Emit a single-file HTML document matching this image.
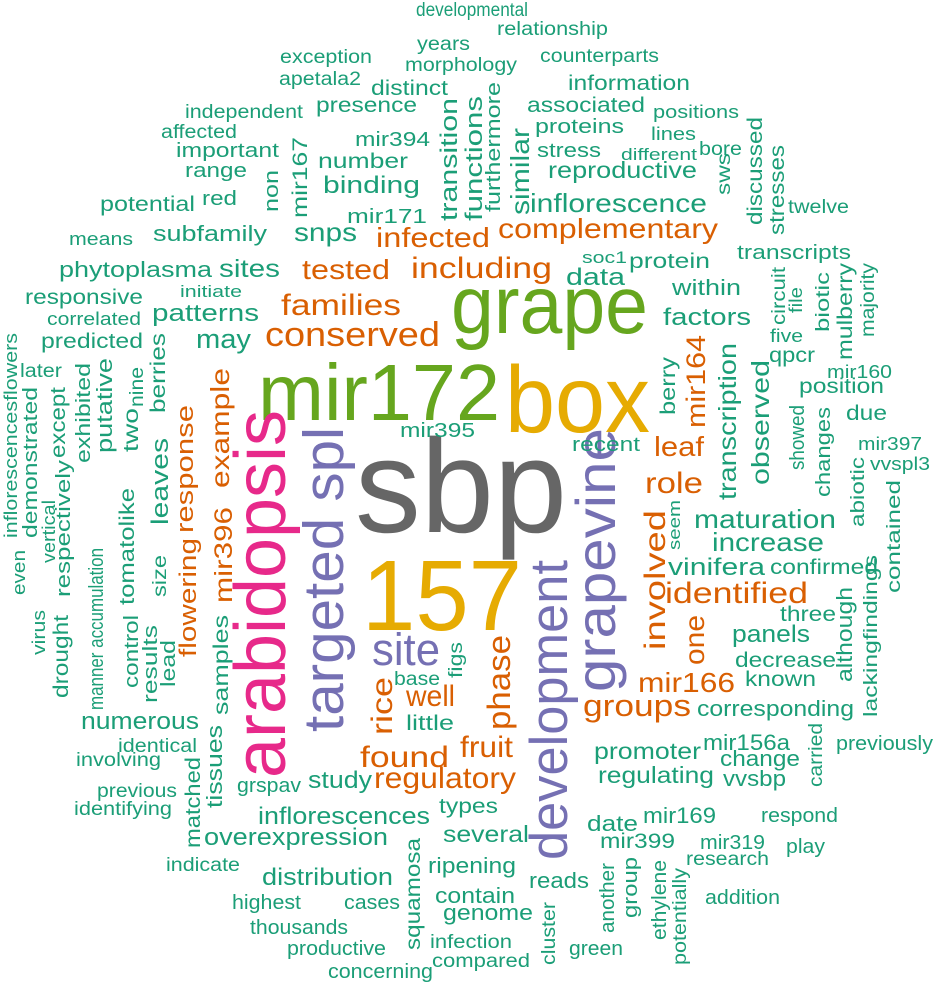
<!DOCTYPE html>
<html><head><meta charset="utf-8"><style>
html,body{margin:0;padding:0;background:#fff;}
svg{display:block;}
text{font-family:"Liberation Sans",Arial,sans-serif;}
.g{fill:#1b9e77}.o{fill:#d95f02}.p{fill:#7570b3}.k{fill:#e7298a}.l{fill:#66a61e}.y{fill:#e6ab02}.d{fill:#666666}
</style></head><body>
<svg width="934" height="989" viewBox="0 0 934 989" xmlns="http://www.w3.org/2000/svg" lengthAdjust="spacingAndGlyphs">
<!-- big words -->
<text class="d" x="355" y="532" font-size="133" textLength="212" lengthAdjust="spacingAndGlyphs">sbp</text>
<text class="y" x="362" y="630" font-size="100" textLength="160" lengthAdjust="spacingAndGlyphs">157</text>
<text class="l" x="258" y="420" font-size="80" textLength="242" lengthAdjust="spacingAndGlyphs">mir172</text>
<text class="y" x="505" y="432" font-size="95" textLength="145" lengthAdjust="spacingAndGlyphs">box</text>
<text class="l" x="451" y="333" font-size="82" textLength="197" lengthAdjust="spacingAndGlyphs">grape</text>
<text class="k" transform="translate(285,778) rotate(-90)" font-size="72" textLength="368" lengthAdjust="spacingAndGlyphs">arabidopsis</text>
<text class="p" transform="translate(343,732) rotate(-90)" font-size="57" textLength="305" lengthAdjust="spacingAndGlyphs">targeted spl</text>
<text class="p" transform="translate(567,860) rotate(-90)" font-size="53" textLength="300" lengthAdjust="spacingAndGlyphs">development</text>
<text class="p" transform="translate(615,692) rotate(-90)" font-size="56" textLength="264" lengthAdjust="spacingAndGlyphs">grapevine</text>
<text class="p" x="372" y="665" font-size="45" textLength="68" lengthAdjust="spacingAndGlyphs">site</text>

<!-- orange -->
<text class="o" x="376" y="247" font-size="28" textLength="114" lengthAdjust="spacingAndGlyphs">infected</text>
<text class="o" x="302" y="279" font-size="28" textLength="88" lengthAdjust="spacingAndGlyphs">tested</text>
<text class="o" x="411" y="278" font-size="30" textLength="141" lengthAdjust="spacingAndGlyphs">including</text>
<text class="o" x="281" y="315" font-size="30" textLength="120" lengthAdjust="spacingAndGlyphs">families</text>
<text class="o" x="265" y="346" font-size="34" textLength="175" lengthAdjust="spacingAndGlyphs">conserved</text>
<text class="o" x="498" y="238" font-size="28" textLength="220" lengthAdjust="spacingAndGlyphs">complementary</text>
<text class="o" transform="translate(665,650) rotate(-90)" font-size="30" textLength="140" lengthAdjust="spacingAndGlyphs">involved</text>
<text class="o" x="665" y="603" font-size="30" textLength="143" lengthAdjust="spacingAndGlyphs">identified</text>
<text class="o" transform="translate(704,665) rotate(-90)" font-size="28" textLength="50" lengthAdjust="spacingAndGlyphs">one</text>
<text class="o" x="638" y="692" font-size="28" textLength="97" lengthAdjust="spacingAndGlyphs">mir166</text>
<text class="o" x="583" y="716" font-size="31" textLength="108" lengthAdjust="spacingAndGlyphs">groups</text>
<text class="o" transform="translate(510,730) rotate(-90)" font-size="32" textLength="95" lengthAdjust="spacingAndGlyphs">phase</text>
<text class="o" x="460" y="757" font-size="30" textLength="53" lengthAdjust="spacingAndGlyphs">fruit</text>
<text class="o" x="374" y="788" font-size="30" textLength="142" lengthAdjust="spacingAndGlyphs">regulatory</text>
<text class="o" x="360" y="767" font-size="30" textLength="89" lengthAdjust="spacingAndGlyphs">found</text>
<text class="o" x="406" y="706" font-size="30" textLength="49" lengthAdjust="spacingAndGlyphs">well</text>
<text class="o" transform="translate(392,735) rotate(-90)" font-size="30" textLength="58" lengthAdjust="spacingAndGlyphs">rice</text>
<text class="o" transform="translate(705,428) rotate(-90)" font-size="27" textLength="93" lengthAdjust="spacingAndGlyphs">mir164</text>
<text class="o" x="654" y="456" font-size="28" textLength="50" lengthAdjust="spacingAndGlyphs">leaf</text>
<text class="o" x="645" y="493" font-size="30" textLength="58" lengthAdjust="spacingAndGlyphs">role</text>
<text class="o" transform="translate(196,657) rotate(-90)" font-size="24" textLength="119" lengthAdjust="spacingAndGlyphs">flowering</text>
<text class="o" transform="translate(232,603) rotate(-90)" font-size="25" textLength="96" lengthAdjust="spacingAndGlyphs">mir396</text>
<text class="o" transform="translate(229,488) rotate(-90)" font-size="26" textLength="120" lengthAdjust="spacingAndGlyphs">example</text>
<text class="o" transform="translate(193,533) rotate(-90)" font-size="24" textLength="128" lengthAdjust="spacingAndGlyphs">response</text>

<!-- green horizontal -->
<g class="g">
<text x="416" y="16" font-size="19" textLength="112" lengthAdjust="spacingAndGlyphs">developmental</text>
<text x="497" y="35" font-size="19" textLength="111" lengthAdjust="spacingAndGlyphs">relationship</text>
<text x="417" y="50" font-size="19" textLength="53" lengthAdjust="spacingAndGlyphs">years</text>
<text x="540" y="62" font-size="19" textLength="119" lengthAdjust="spacingAndGlyphs">counterparts</text>
<text x="280" y="63" font-size="19" textLength="92" lengthAdjust="spacingAndGlyphs">exception</text>
<text x="405" y="71" font-size="19" textLength="112" lengthAdjust="spacingAndGlyphs">morphology</text>
<text x="279" y="85" font-size="19" textLength="82" lengthAdjust="spacingAndGlyphs">apetala2</text>
<text x="568" y="90" font-size="21" textLength="122" lengthAdjust="spacingAndGlyphs">information</text>
<text x="371" y="95" font-size="21" textLength="77" lengthAdjust="spacingAndGlyphs">distinct</text>
<text x="316" y="112" font-size="21" textLength="101" lengthAdjust="spacingAndGlyphs">presence</text>
<text x="527" y="112" font-size="21" textLength="118" lengthAdjust="spacingAndGlyphs">associated</text>
<text x="185" y="118" font-size="19" textLength="118" lengthAdjust="spacingAndGlyphs">independent</text>
<text x="653" y="118" font-size="18" textLength="86" lengthAdjust="spacingAndGlyphs">positions</text>
<text x="535" y="133" font-size="20" textLength="89" lengthAdjust="spacingAndGlyphs">proteins</text>
<text x="161" y="138" font-size="19" textLength="76" lengthAdjust="spacingAndGlyphs">affected</text>
<text x="651" y="140" font-size="18" textLength="45" lengthAdjust="spacingAndGlyphs">lines</text>
<text x="355" y="146" font-size="20" textLength="75" lengthAdjust="spacingAndGlyphs">mir394</text>
<text x="537" y="157" font-size="20" textLength="64" lengthAdjust="spacingAndGlyphs">stress</text>
<text x="699" y="155" font-size="19" textLength="43" lengthAdjust="spacingAndGlyphs">bore</text>
<text x="621" y="160" font-size="17" textLength="76" lengthAdjust="spacingAndGlyphs">different</text>
<text x="176" y="157" font-size="20" textLength="103" lengthAdjust="spacingAndGlyphs">important</text>
<text x="318" y="168" font-size="21" textLength="90" lengthAdjust="spacingAndGlyphs">number</text>
<text x="185" y="177" font-size="20" textLength="62" lengthAdjust="spacingAndGlyphs">range</text>
<text x="548" y="178" font-size="23" textLength="149" lengthAdjust="spacingAndGlyphs">reproductive</text>
<text x="323" y="193" font-size="24" textLength="97" lengthAdjust="spacingAndGlyphs">binding</text>
<text x="202" y="205" font-size="20" textLength="35" lengthAdjust="spacingAndGlyphs">red</text>
<text x="100" y="211" font-size="21" textLength="95" lengthAdjust="spacingAndGlyphs">potential</text>
<text x="530" y="212" font-size="26" textLength="177" lengthAdjust="spacingAndGlyphs">inflorescence</text>
<text x="788" y="213" font-size="19" textLength="61" lengthAdjust="spacingAndGlyphs">twelve</text>
<text x="347" y="223" font-size="20" textLength="80" lengthAdjust="spacingAndGlyphs">mir171</text>
<text x="153" y="241" font-size="22" textLength="114" lengthAdjust="spacingAndGlyphs">subfamily</text>
<text x="294" y="241" font-size="26" textLength="63" lengthAdjust="spacingAndGlyphs">snps</text>
<text x="69" y="245" font-size="18" textLength="64" lengthAdjust="spacingAndGlyphs">means</text>
<text x="737" y="259" font-size="20" textLength="114" lengthAdjust="spacingAndGlyphs">transcripts</text>
<text x="582" y="263" font-size="17" textLength="45" lengthAdjust="spacingAndGlyphs">soc1</text>
<text x="629" y="268" font-size="21" textLength="81" lengthAdjust="spacingAndGlyphs">protein</text>
<text x="59" y="277" font-size="22" textLength="153" lengthAdjust="spacingAndGlyphs">phytoplasma</text>
<text x="219" y="277" font-size="25" textLength="61" lengthAdjust="spacingAndGlyphs">sites</text>
<text x="566" y="285" font-size="24" textLength="59" lengthAdjust="spacingAndGlyphs">data</text>
<text x="672" y="295" font-size="22" textLength="69" lengthAdjust="spacingAndGlyphs">within</text>
<text x="180" y="297" font-size="17" textLength="62" lengthAdjust="spacingAndGlyphs">initiate</text>
<text x="25" y="304" font-size="21" textLength="118" lengthAdjust="spacingAndGlyphs">responsive</text>
<text x="152" y="321" font-size="24" textLength="107" lengthAdjust="spacingAndGlyphs">patterns</text>
<text x="47" y="325" font-size="18" textLength="94" lengthAdjust="spacingAndGlyphs">correlated</text>
<text x="663" y="325" font-size="24" textLength="88" lengthAdjust="spacingAndGlyphs">factors</text>
<text x="770" y="342" font-size="18" textLength="33" lengthAdjust="spacingAndGlyphs">five</text>
<text x="41" y="348" font-size="21" textLength="102" lengthAdjust="spacingAndGlyphs">predicted</text>
<text x="196" y="348" font-size="27" textLength="55" lengthAdjust="spacingAndGlyphs">may</text>
<text x="769" y="362" font-size="21" textLength="46" lengthAdjust="spacingAndGlyphs">qpcr</text>
<text x="20" y="377" font-size="19" textLength="42" lengthAdjust="spacingAndGlyphs">later</text>
<text x="827" y="378" font-size="18" textLength="65" lengthAdjust="spacingAndGlyphs">mir160</text>
<text x="799" y="393" font-size="21" textLength="85" lengthAdjust="spacingAndGlyphs">position</text>
<text x="846" y="420" font-size="21" textLength="41" lengthAdjust="spacingAndGlyphs">due</text>
<text x="400" y="437" font-size="20" textLength="75" lengthAdjust="spacingAndGlyphs">mir395</text>
<text x="858" y="450" font-size="18" textLength="64" lengthAdjust="spacingAndGlyphs">mir397</text>
<text x="572" y="451" font-size="20" textLength="68" lengthAdjust="spacingAndGlyphs">recent</text>
<text x="870" y="470" font-size="18" textLength="60" lengthAdjust="spacingAndGlyphs">vvspl3</text>
<text x="694" y="528" font-size="26" textLength="142" lengthAdjust="spacingAndGlyphs">maturation</text>
<text x="712" y="551" font-size="26" textLength="112" lengthAdjust="spacingAndGlyphs">increase</text>
<text x="668" y="575" font-size="24" textLength="97" lengthAdjust="spacingAndGlyphs">vinifera</text>
<text x="770" y="574" font-size="21" textLength="108" lengthAdjust="spacingAndGlyphs">confirmed</text>
<text x="780" y="621" font-size="21" textLength="56" lengthAdjust="spacingAndGlyphs">three</text>
<text x="732" y="642" font-size="24" textLength="78" lengthAdjust="spacingAndGlyphs">panels</text>
<text x="735" y="667" font-size="21" textLength="101" lengthAdjust="spacingAndGlyphs">decrease</text>
<text x="394" y="685" font-size="19" textLength="46" lengthAdjust="spacingAndGlyphs">base</text>
<text x="745" y="686" font-size="21" textLength="71" lengthAdjust="spacingAndGlyphs">known</text>
<text x="697" y="716" font-size="22" textLength="157" lengthAdjust="spacingAndGlyphs">corresponding</text>
<text x="81" y="729" font-size="24" textLength="118" lengthAdjust="spacingAndGlyphs">numerous</text>
<text x="406" y="730" font-size="21" textLength="48" lengthAdjust="spacingAndGlyphs">little</text>
<text x="703" y="750" font-size="22" textLength="87" lengthAdjust="spacingAndGlyphs">mir156a</text>
<text x="836" y="750" font-size="20" textLength="97" lengthAdjust="spacingAndGlyphs">previously</text>
<text x="118" y="752" font-size="19" textLength="79" lengthAdjust="spacingAndGlyphs">identical</text>
<text x="594" y="759" font-size="23" textLength="107" lengthAdjust="spacingAndGlyphs">promoter</text>
<text x="76" y="766" font-size="19" textLength="85" lengthAdjust="spacingAndGlyphs">involving</text>
<text x="720" y="766" font-size="22" textLength="80" lengthAdjust="spacingAndGlyphs">change</text>
<text x="598" y="783" font-size="23" textLength="116" lengthAdjust="spacingAndGlyphs">regulating</text>
<text x="723" y="786" font-size="22" textLength="63" lengthAdjust="spacingAndGlyphs">vvsbp</text>
<text x="308" y="788" font-size="24" textLength="64" lengthAdjust="spacingAndGlyphs">study</text>
<text x="237" y="792" font-size="20" textLength="64" lengthAdjust="spacingAndGlyphs">grspav</text>
<text x="97" y="797" font-size="19" textLength="80" lengthAdjust="spacingAndGlyphs">previous</text>
<text x="74" y="815" font-size="19" textLength="98" lengthAdjust="spacingAndGlyphs">identifying</text>
<text x="439" y="813" font-size="21" textLength="59" lengthAdjust="spacingAndGlyphs">types</text>
<text x="761" y="822" font-size="20" textLength="77" lengthAdjust="spacingAndGlyphs">respond</text>
<text x="643" y="823" font-size="22" textLength="73" lengthAdjust="spacingAndGlyphs">mir169</text>
<text x="258" y="824" font-size="24" textLength="172" lengthAdjust="spacingAndGlyphs">inflorescences</text>
<text x="587" y="831" font-size="22" textLength="51" lengthAdjust="spacingAndGlyphs">date</text>
<text x="443" y="842" font-size="23" textLength="86" lengthAdjust="spacingAndGlyphs">several</text>
<text x="204" y="845" font-size="24" textLength="184" lengthAdjust="spacingAndGlyphs">overexpression</text>
<text x="600" y="848" font-size="21" textLength="75" lengthAdjust="spacingAndGlyphs">mir399</text>
<text x="700" y="849" font-size="20" textLength="65" lengthAdjust="spacingAndGlyphs">mir319</text>
<text x="786" y="853" font-size="20" textLength="39" lengthAdjust="spacingAndGlyphs">play</text>
<text x="686" y="865" font-size="19" textLength="83" lengthAdjust="spacingAndGlyphs">research</text>
<text x="166" y="871" font-size="19" textLength="74" lengthAdjust="spacingAndGlyphs">indicate</text>
<text x="428" y="873" font-size="22" textLength="88" lengthAdjust="spacingAndGlyphs">ripening</text>
<text x="262" y="885" font-size="24" textLength="131" lengthAdjust="spacingAndGlyphs">distribution</text>
<text x="529" y="888" font-size="22" textLength="60" lengthAdjust="spacingAndGlyphs">reads</text>
<text x="435" y="903" font-size="22" textLength="80" lengthAdjust="spacingAndGlyphs">contain</text>
<text x="705" y="904" font-size="20" textLength="75" lengthAdjust="spacingAndGlyphs">addition</text>
<text x="232" y="909" font-size="20" textLength="69" lengthAdjust="spacingAndGlyphs">highest</text>
<text x="344" y="909" font-size="20" textLength="56" lengthAdjust="spacingAndGlyphs">cases</text>
<text x="443" y="920" font-size="22" textLength="90" lengthAdjust="spacingAndGlyphs">genome</text>
<text x="250" y="934" font-size="20" textLength="98" lengthAdjust="spacingAndGlyphs">thousands</text>
<text x="430" y="948" font-size="19" textLength="82" lengthAdjust="spacingAndGlyphs">infection</text>
<text x="287" y="955" font-size="20" textLength="99" lengthAdjust="spacingAndGlyphs">productive</text>
<text x="569" y="955" font-size="20" textLength="54" lengthAdjust="spacingAndGlyphs">green</text>
<text x="432" y="967" font-size="19" textLength="98" lengthAdjust="spacingAndGlyphs">compared</text>
<text x="328" y="978" font-size="20" textLength="105" lengthAdjust="spacingAndGlyphs">concerning</text>
</g>

<!-- green vertical -->
<g class="g">
<text transform="translate(278,212) rotate(-90)" font-size="20" textLength="42" lengthAdjust="spacingAndGlyphs">non</text>
<text transform="translate(307,218) rotate(-90)" font-size="21" textLength="81" lengthAdjust="spacingAndGlyphs">mir167</text>
<text transform="translate(457,221) rotate(-90)" font-size="24" textLength="123" lengthAdjust="spacingAndGlyphs">transition</text>
<text transform="translate(482,221) rotate(-90)" font-size="24" textLength="125" lengthAdjust="spacingAndGlyphs">functions</text>
<text transform="translate(500,212) rotate(-90)" font-size="20" textLength="130" lengthAdjust="spacingAndGlyphs">furthermore</text>
<text transform="translate(529,215) rotate(-90)" font-size="26" textLength="87" lengthAdjust="spacingAndGlyphs">similar</text>
<text transform="translate(730,195) rotate(-90)" font-size="19" textLength="42" lengthAdjust="spacingAndGlyphs">sws</text>
<text transform="translate(762,225) rotate(-90)" font-size="21" textLength="108" lengthAdjust="spacingAndGlyphs">discussed</text>
<text transform="translate(784,235) rotate(-90)" font-size="21" textLength="90" lengthAdjust="spacingAndGlyphs">stresses</text>
<text transform="translate(785,325) rotate(-90)" font-size="19" textLength="58" lengthAdjust="spacingAndGlyphs">circuit</text>
<text transform="translate(802,313) rotate(-90)" font-size="18" textLength="26" lengthAdjust="spacingAndGlyphs">file</text>
<text transform="translate(829,332) rotate(-90)" font-size="19" textLength="60" lengthAdjust="spacingAndGlyphs">biotic</text>
<text transform="translate(852,360) rotate(-90)" font-size="21" textLength="97" lengthAdjust="spacingAndGlyphs">mulberry</text>
<text transform="translate(874,337) rotate(-90)" font-size="19" textLength="74" lengthAdjust="spacingAndGlyphs">majority</text>
<text transform="translate(675,415) rotate(-90)" font-size="21" textLength="58" lengthAdjust="spacingAndGlyphs">berry</text>
<text transform="translate(736,500) rotate(-90)" font-size="25" textLength="157" lengthAdjust="spacingAndGlyphs">transcription</text>
<text transform="translate(769,485) rotate(-90)" font-size="25" textLength="125" lengthAdjust="spacingAndGlyphs">observed</text>
<text transform="translate(804,470) rotate(-90)" font-size="20" textLength="65" lengthAdjust="spacingAndGlyphs">showed</text>
<text transform="translate(830,497) rotate(-90)" font-size="20" textLength="90" lengthAdjust="spacingAndGlyphs">changes</text>
<text transform="translate(864,527) rotate(-90)" font-size="19" textLength="70" lengthAdjust="spacingAndGlyphs">abiotic</text>
<text transform="translate(900,593) rotate(-90)" font-size="19" textLength="113" lengthAdjust="spacingAndGlyphs">contained</text>
<text transform="translate(680,550) rotate(-90)" font-size="17" textLength="50" lengthAdjust="spacingAndGlyphs">seem</text>
<text transform="translate(852,682) rotate(-90)" font-size="22" textLength="95" lengthAdjust="spacingAndGlyphs">although</text>
<text transform="translate(877,717) rotate(-90)" font-size="19" textLength="162" lengthAdjust="spacingAndGlyphs">lackingfindings</text>
<text transform="translate(822,787) rotate(-90)" font-size="19" textLength="64" lengthAdjust="spacingAndGlyphs">carried</text>
<text transform="translate(614,933) rotate(-90)" font-size="20" textLength="70" lengthAdjust="spacingAndGlyphs">another</text>
<text transform="translate(637,918) rotate(-90)" font-size="20" textLength="61" lengthAdjust="spacingAndGlyphs">group</text>
<text transform="translate(666,940) rotate(-90)" font-size="20" textLength="80" lengthAdjust="spacingAndGlyphs">ethylene</text>
<text transform="translate(686,965) rotate(-90)" font-size="19" textLength="97" lengthAdjust="spacingAndGlyphs">potentially</text>
<text transform="translate(555,965) rotate(-90)" font-size="19" textLength="63" lengthAdjust="spacingAndGlyphs">cluster</text>
<text transform="translate(420,950) rotate(-90)" font-size="21" textLength="112" lengthAdjust="spacingAndGlyphs">squamosa</text>
<text transform="translate(462,678) rotate(-90)" font-size="19" textLength="36" lengthAdjust="spacingAndGlyphs">figs</text>
<text transform="translate(200,848) rotate(-90)" font-size="21" textLength="91" lengthAdjust="spacingAndGlyphs">matched</text>
<text transform="translate(222,808) rotate(-90)" font-size="22" textLength="83" lengthAdjust="spacingAndGlyphs">tissues</text>
<text transform="translate(228,715) rotate(-90)" font-size="21" textLength="100" lengthAdjust="spacingAndGlyphs">samples</text>
<text transform="translate(168,525) rotate(-90)" font-size="24" textLength="87" lengthAdjust="spacingAndGlyphs">leaves</text>
<text transform="translate(165,413) rotate(-90)" font-size="21" textLength="80" lengthAdjust="spacingAndGlyphs">berries</text>
<text transform="translate(143,407) rotate(-90)" font-size="19" textLength="40" lengthAdjust="spacingAndGlyphs">nine</text>
<text transform="translate(138,452) rotate(-90)" font-size="21" textLength="44" lengthAdjust="spacingAndGlyphs">two</text>
<text transform="translate(112,453) rotate(-90)" font-size="22" textLength="95" lengthAdjust="spacingAndGlyphs">putative</text>
<text transform="translate(90,463) rotate(-90)" font-size="20" textLength="100" lengthAdjust="spacingAndGlyphs">exhibited</text>
<text transform="translate(65,458) rotate(-90)" font-size="21" textLength="71" lengthAdjust="spacingAndGlyphs">except</text>
<text transform="translate(37,538) rotate(-90)" font-size="20" textLength="151" lengthAdjust="spacingAndGlyphs">demonstrated</text>
<text transform="translate(17,538) rotate(-90)" font-size="18" textLength="205" lengthAdjust="spacingAndGlyphs">inflorescencesflowers</text>
<text transform="translate(25,595) rotate(-90)" font-size="18" textLength="45" lengthAdjust="spacingAndGlyphs">even</text>
<text transform="translate(55,563) rotate(-90)" font-size="18" textLength="63" lengthAdjust="spacingAndGlyphs">vertical</text>
<text transform="translate(70,597) rotate(-90)" font-size="20" textLength="137" lengthAdjust="spacingAndGlyphs">respectively</text>
<text transform="translate(103,710) rotate(-90)" font-size="20" textLength="162" lengthAdjust="spacingAndGlyphs">manner accumulation</text>
<text transform="translate(134,605) rotate(-90)" font-size="21" textLength="117" lengthAdjust="spacingAndGlyphs">tomatolike</text>
<text transform="translate(138,688) rotate(-90)" font-size="20" textLength="73" lengthAdjust="spacingAndGlyphs">control</text>
<text transform="translate(157,703) rotate(-90)" font-size="20" textLength="78" lengthAdjust="spacingAndGlyphs">results</text>
<text transform="translate(175,687) rotate(-90)" font-size="20" textLength="47" lengthAdjust="spacingAndGlyphs">lead</text>
<text transform="translate(166,597) rotate(-90)" font-size="19" textLength="42" lengthAdjust="spacingAndGlyphs">size</text>
<text transform="translate(45,655) rotate(-90)" font-size="18" textLength="45" lengthAdjust="spacingAndGlyphs">virus</text>
<text transform="translate(68,698) rotate(-90)" font-size="21" textLength="83" lengthAdjust="spacingAndGlyphs">drought</text>
</g>
</svg>
</body></html>
